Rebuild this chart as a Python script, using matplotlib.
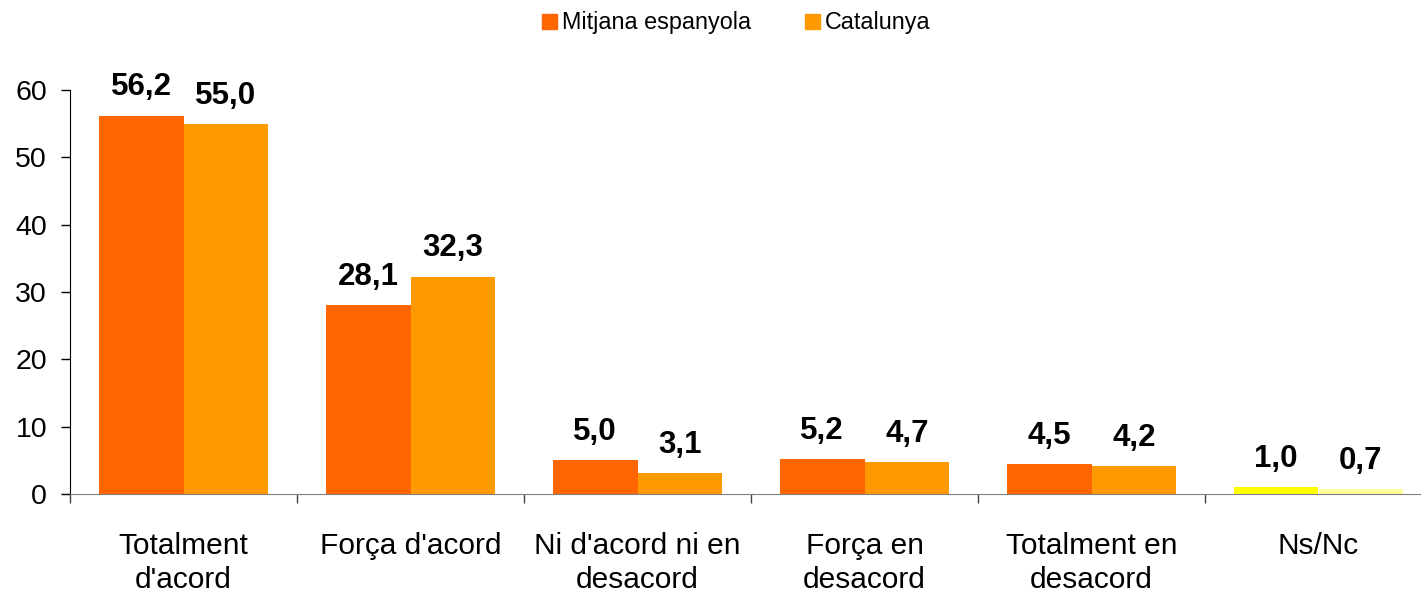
import matplotlib.pyplot as plt
import numpy as np

plt.rcParams['font.family'] = ['Liberation Sans', 'DejaVu Sans']

categories = ["Totalment\nd'acord", "Força d'acord", "Ni d'acord ni en\ndesacord",
              "Força en\ndesacord", "Totalment en\ndesacord", "Ns/Nc"]
mitjana = [56.2, 28.1, 5.0, 5.2, 4.5, 1.0]
catalunya = [55.0, 32.3, 3.1, 4.7, 4.2, 0.7]
series_names = ["Mitjana espanyola", "Catalunya"]

# colors (last group highlighted in yellow as in the original)
col_mitjana = ['#FF6600'] * 5 + ['#FFFF00']
col_catalunya = ['#FF9900'] * 5 + ['#FFFF99']

fig = plt.figure(figsize=(14.21, 5.93), dpi=100)
ax = fig.add_axes([70 / 1421, 99 / 593, 1362 / 1421, 404 / 593])

x = np.arange(len(categories))
w = 0.374
b1 = ax.bar(x - w / 2, mitjana, w, color=col_mitjana, label=series_names[0])
b2 = ax.bar(x + w / 2, catalunya, w, color=col_catalunya, label=series_names[1])

for bars, vals in ((b1, mitjana), (b2, catalunya)):
    for r, v in zip(bars, vals):
        ax.annotate(f"{v:.1f}".replace('.', ','), (r.get_x() + r.get_width() / 2, v),
                    xytext=(0, 14.5), textcoords='offset points', ha='center',
                    va='baseline', fontsize=22.5, fontweight='bold')

ax.set_xlim(-0.5, 5.5)
ax.set_ylim(0, 60)
ax.set_yticks(range(0, 61, 10))
ax.tick_params(axis='y', labelsize=20.5, length=6.5, width=1, direction='out', pad=10)

ax.set_xticks(x)
ax.set_xticklabels(categories, fontsize=21.5, linespacing=1.3)
ax.set_xticks(np.arange(-0.5, 6.0, 1.0), minor=True)
ax.tick_params(axis='x', which='major', length=0, pad=27)
ax.tick_params(axis='x', which='minor', length=6.5, width=1, color='#404040', direction='out')

for s in ('top', 'right'):
    ax.spines[s].set_visible(False)
ax.spines['bottom'].set_color('#808080')
ax.spines['left'].set_color('black')

h1 = plt.Rectangle((0, 0), 1, 1, color='#FF6600')
h2 = plt.Rectangle((0, 0), 1, 1, color='#FF9900')
fig.legend([h1, h2], series_names, loc='center', bbox_to_anchor=(736 / 1421, 1 - 23 / 593),
           ncol=2, frameon=False, fontsize=16.8, handlelength=0.65, handleheight=0.65,
           handletextpad=0.2, columnspacing=2.3, borderaxespad=0)

fig.savefig('out.png', dpi=100)
